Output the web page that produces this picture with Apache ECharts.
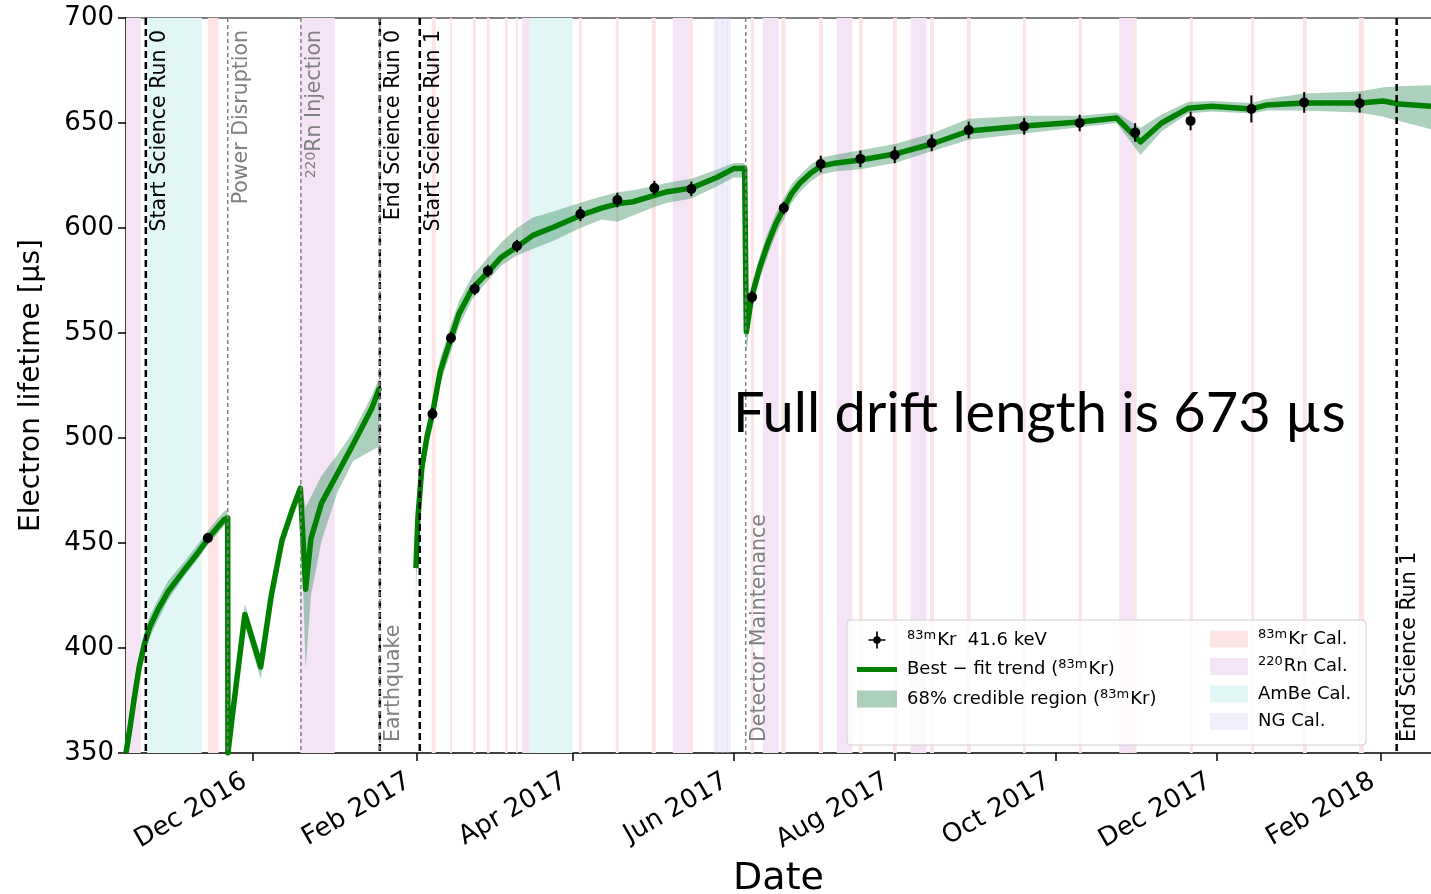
<!DOCTYPE html>
<html><head><meta charset="utf-8">
<script src="https://cdn.jsdelivr.net/npm/echarts@6/dist/echarts.min.js"></script>
<style>html,body{margin:0;padding:0;background:#fff}#c{width:1431px;height:894px}</style>
</head><body><div id="c"></div>
<script>
// ---------------- data ----------------
const xMin = '2016-10-14', xMax = '2018-02-20';
const yMin = 350, yMax = 700, yStep = 50;
const xTickDates = ['2016-12-01','2017-02-01','2017-04-01','2017-06-01','2017-08-01','2017-10-01','2017-12-01','2018-02-01'];
const xTickLabels = ['Dec 2016','Feb 2017','Apr 2017','Jun 2017','Aug 2017','Oct 2017','Dec 2017','Feb 2018'];

// Science Run 0 best-fit trend and 68% region
const run0Dates = ['2016-10-14','2016-10-15 12:00','2016-10-17','2016-10-19','2016-10-21','2016-10-23','2016-10-26','2016-10-30','2016-11-05','2016-11-10','2016-11-14','2016-11-20','2016-11-21 12:00','2016-11-21 14:00','2016-11-23','2016-11-28','2016-12-04','2016-12-08','2016-12-12','2016-12-16','2016-12-19','2016-12-21','2016-12-23','2016-12-27','2017-01-02','2017-01-08','2017-01-15','2017-01-18'];
const run0Trend = [350,362,375,391,402,410,418,427,437,445,452,461,462,350,365,416,391,425,451,466,476,428,452,469,483,497,514,524];
const run0Low   = [350,354,367,385,396,405,413,423,434,442,449,458,459,350,358,411,385,419,447,462,472,390,425,451,474,489,494,496];
const run0High  = [357,370,383,397,408,415,423,432,441,449,456,465,466,350,370,421,396,431,455,470,479,467,472,482,492,503,520,529];

// Science Run 1 best-fit trend and 68% region
const run1Dates = ['2017-01-31 18:00','2017-02-01 12:00','2017-02-03','2017-02-05','2017-02-07','2017-02-10','2017-02-14','2017-02-17','2017-02-22','2017-02-28','2017-03-05','2017-03-11','2017-03-17','2017-03-25','2017-04-04','2017-04-12','2017-04-18','2017-04-24','2017-05-02','2017-05-07','2017-05-16','2017-05-26','2017-06-01','2017-06-05 04:00','2017-06-05 20:00','2017-06-07 20:00','2017-06-11','2017-06-14','2017-06-17','2017-06-20','2017-06-23','2017-06-26','2017-06-30','2017-07-04','2017-07-10','2017-07-19','2017-08-01','2017-08-15','2017-08-29','2017-09-19','2017-10-10','2017-10-24','2017-11-02','2017-11-10','2017-11-20','2017-11-29','2017-12-14','2017-12-20','2018-01-03','2018-01-24','2018-02-02','2018-02-08','2018-02-20'];
const run1Trend = [438,462,486,501,511.5,532,547.5,559,571,579,586,591,596.5,600.5,606,609.5,611.5,612.5,615.5,617.3,619,624.3,628.3,628.5,550.6,567.3,581.6,592.7,602,609.4,616.5,621.3,626,629.5,631,632.4,635.2,640,646.2,648.6,650.5,652.4,641,650,657,658,656.7,658.6,659.5,659.5,660.5,659,658];
const run1Low   = [422,455,478,494,505,526,541,553,566,575,582,587,590,594,600,604,603,606,610,612,614,620,624,624,540,561,576,587,597,604,612,617,622,625.5,627,628,631,636.5,642,645,648,650,634.8,646,654.5,655.5,654.5,656,656,655,653,651,647];
const run1High  = [442,469,492,507,517,538,554,565,577,586,593,600,605,608,612,615,617,618,620,621.5,623.5,628,631,631,555,573,587,598,607,614,621,625,630,633.5,635,637,640,645,652,653.5,653.5,655,647.6,654,660,660.5,659.5,661.5,664,665,667,667.5,668];

// 83mKr 41.6 keV measurements
const krDates  = ['2016-11-14','2017-02-07','2017-02-14','2017-02-23','2017-02-28','2017-03-11','2017-04-04','2017-04-18','2017-05-02','2017-05-16','2017-06-08','2017-06-20','2017-07-04','2017-07-19','2017-08-01','2017-08-15','2017-08-29','2017-09-19','2017-10-10','2017-10-31','2017-11-21','2017-12-14','2018-01-03','2018-01-24'];
const krValues = [452.4,511.4,547.6,571,579.5,591.4,606.7,613.3,619,618.6,567.1,609.5,630.5,632.9,634.8,640.5,646.7,648.4,650,645.5,651,656.7,659.8,659.4];
const krErrors = [1.5,2,2,2,2,2,2.5,2.5,2.5,2.5,2,2,3,3,3,3,3,3,3,3.5,3.5,5.5,4,3.5];

// calibration periods [start, end]
const krCal = [['2016-11-14','2016-11-18'],['2017-02-06 18:00','2017-02-08 06:00'],['2017-02-13 14:00','2017-02-14 08:00'],['2017-02-22 08:00','2017-02-23 10:00'],['2017-02-27 14:00','2017-02-28 16:00'],['2017-03-06 10:00','2017-03-07 12:00'],['2017-03-10 14:00','2017-03-11 08:00'],['2017-04-03 10:00','2017-04-04 12:00'],['2017-04-17 10:00','2017-04-18 12:00'],['2017-05-01','2017-05-02 14:00'],['2017-05-15','2017-05-16 14:00'],['2017-06-07 12:00','2017-06-08 16:00'],['2017-06-19 04:00','2017-06-20 16:00'],['2017-07-03 08:00','2017-07-04 20:00'],['2017-07-18 10:00','2017-07-19 22:00'],['2017-07-31 08:00','2017-08-01 20:00'],['2017-08-14 08:00','2017-08-15 20:00'],['2017-08-28 08:00','2017-08-29 20:00'],['2017-09-18 12:00','2017-09-19 14:00'],['2017-10-09 16:00','2017-10-10 20:00'],['2017-10-30 12:00','2017-10-31 14:00'],['2017-11-20 16:00','2017-11-21 20:00'],['2017-12-14','2017-12-15'],['2018-01-02 12:00','2018-01-04'],['2018-01-23 16:00','2018-01-25 14:00']];
const rnCal = [['2016-10-14','2016-10-19 14:00'],['2016-12-19','2017-01-01'],['2017-03-13','2017-03-16'],['2017-05-09','2017-05-15'],['2017-06-12','2017-06-18'],['2017-07-10','2017-07-16'],['2017-08-07','2017-08-13'],['2017-10-25','2017-10-30 12:00']];
const ambeCal = [['2016-10-22','2016-11-11 16:00'],['2017-03-16','2017-04-01']];
const ngCal = [['2017-05-24 12:00','2017-05-31'],['2017-05-25 06:00','2017-05-25 18:00'],['2017-05-27 12:00','2017-05-28'],['2017-05-29 06:00','2017-05-29 18:00']];

// detector events
const eventDates  = ['2016-10-21 12:00','2016-11-21 12:00','2016-12-19 05:00','2017-01-18 02:00','2017-01-18 02:00','2017-02-02 05:00','2017-06-05 14:00','2018-02-07'];
const eventLabels = ['Start Science Run 0','Power Disruption','{sup|220}Rn Injection','End Science Run 0','Earthquake','Start Science Run 1','Detector Maintenance','End Science Run 1'];
const eventKinds  = ['run','event','event','run','event','run','event','run'];
const eventLabelEnd = ['top','top','top','top','bottom','top','bottom','bottom'];

const legendNames = {
  kr: '{sup|83m}Kr  41.6 keV',
  trend: 'Best \u2212 fit trend ({sup|83m}Kr)',
  cred: '68% credible region ({sup|83m}Kr)',
  krCal: '{sup|83m}Kr Cal.',
  rnCal: '{sup|220}Rn Cal.',
  ambeCal: 'AmBe Cal.',
  ngCal: 'NG Cal.'
};

// ---------------- chart ----------------
const ts = s => echarts.number.parseDate(s).getTime();
const FONT = '"DejaVu Sans", sans-serif';
const chart = echarts.init(document.getElementById('c'), null, {renderer: 'canvas'});
const tickTs = xTickDates.map(ts);

function bandSeries(name, periods, color) {
  return {
    type: 'custom', name, z: 1, clip: true,
    itemStyle: {color},
    encode: {x: [0, 1], y: 2},
    data: periods.map(p => [ts(p[0]), ts(p[1]), 525]),
    renderItem: (params, api) => {
      const cs = params.coordSys;
      const a = api.coord([api.value(0), 525])[0];
      const b = api.coord([api.value(1), 525])[0];
      return {type: 'rect', shape: {x: a, y: cs.y, width: Math.max(b - a, 1.5), height: cs.height}, style: {fill: color}};
    }
  };
}

const segments = [
  {d: run0Dates, lo: run0Low, hi: run0High},
  {d: run1Dates, lo: run1Low, hi: run1High}
];

const trendData = [];
run0Dates.forEach((d, i) => trendData.push([ts(d), run0Trend[i]]));
trendData.push([ts('2017-01-25'), null]);
run1Dates.forEach((d, i) => trendData.push([ts(d), run1Trend[i]]));

const supRich = {
  sup: {fontSize: 13, fontFamily: FONT, verticalAlign: 'top', lineHeight: 13, padding: [0, 1, 0, 0]}
};

const option = {
  animation: false,
  backgroundColor: '#fff',
  grid: {left: 126, right: 0, top: 18, bottom: 141, containLabel: false, outerBoundsMode: 'none'},
  xAxis: [{
    type: 'value', min: ts(xMin), max: ts(xMax), scale: true,
    axisLine: {lineStyle: {color: '#000', width: 1.5}},
    axisTick: {customValues: tickTs, length: 8, lineStyle: {color: '#000', width: 1.5}},
    axisLabel: {
      customValues: tickTs, rotate: 30, margin: 22, padding: [0, 9, 0, 0],
      fontSize: 26, fontFamily: FONT, color: '#000',
      formatter: v => { const i = tickTs.indexOf(v); return i >= 0 ? xTickLabels[i] : ''; }
    },
    splitLine: {show: false}, minorTick: {show: false},
    name: 'Date', nameLocation: 'middle', nameGap: 104,
    nameTextStyle: {fontSize: 38, fontFamily: FONT, color: '#000'}
  }, {
    type: 'value', position: 'top', min: 0, max: 1,
    axisLine: {show: true, lineStyle: {color: '#555', width: 1.5}},
    axisTick: {show: false}, axisLabel: {show: false}, splitLine: {show: false}
  }],
  yAxis: {
    type: 'value', min: yMin, max: yMax, interval: yStep,
    axisLine: {show: true, lineStyle: {color: '#000', width: 1.5}},
    axisTick: {show: true, length: 8, lineStyle: {color: '#000', width: 1.5}},
    axisLabel: {fontSize: 26, fontFamily: FONT, color: '#000', margin: 12},
    splitLine: {show: false},
    name: 'Electron lifetime [\u00b5s]', nameLocation: 'middle', nameGap: 80,
    nameTextStyle: {fontSize: 28, fontFamily: FONT, color: '#000'}
  },
  legend: [{
    data: [
      {name: 'kr', icon: 'path://M9,0 L11,0 L11,20 L9,20 Z M0,9 L20,9 L20,11 L0,11 Z M10,5.5 A4.5,4.5 0 1 1 9.99,5.5 Z'},
      {name: 'trend', icon: 'path://M0,0 L40,0 L40,5 L0,5 Z'},
      {name: 'cred', icon: 'rect'}
    ],
    orient: 'vertical', left: 852, top: 624, itemWidth: 40, itemHeight: 17, itemGap: 7.5,
    selectedMode: false, z: 10,
    formatter: n => legendNames[n],
    textStyle: {fontSize: 18, fontFamily: FONT, color: '#000', lineHeight: 22, padding: [0, 0, 0, 5], rich: supRich}
  }, {
    data: [
      {name: 'krCal', icon: 'rect'}, {name: 'rnCal', icon: 'rect'},
      {name: 'ambeCal', icon: 'rect'}, {name: 'ngCal', icon: 'rect'}
    ],
    orient: 'vertical', left: 1205, top: 623, itemWidth: 38, itemHeight: 17, itemGap: 5.5,
    selectedMode: false, z: 10,
    formatter: n => legendNames[n],
    textStyle: {fontSize: 18, fontFamily: FONT, color: '#000', lineHeight: 22, padding: [0, 0, 0, 5], rich: supRich}
  }],
  graphic: [
    {type: 'rect', z: 9, shape: {x: 847, y: 620, width: 519, height: 125, r: 4},
     style: {fill: 'rgba(255,255,255,0.8)', stroke: '#d0d0d0', lineWidth: 1}},
    {type: 'text', z: 8, x: 733, y: 414,
     style: {text: 'Full drift length is 673 \u00b5s', fontSize: 56, fontFamily: 'Lato, sans-serif', fill: '#000', verticalAlign: 'middle', align: 'left'}}
  ],
  series: [
    bandSeries('krCal', krCal, '#fde4e4'),
    bandSeries('rnCal', rnCal, '#f5e3f6'),
    bandSeries('ambeCal', ambeCal, '#e3f6f6'),
    bandSeries('ngCal', ngCal, 'rgba(205,205,250,0.3)'),
    {
      type: 'custom', name: 'cred', z: 2, clip: true,
      itemStyle: {color: 'rgba(46,139,87,0.4)'},
      encode: {x: 0, y: 1},
      data: segments.map((s, i) => [ts(s.d[0]), 500, i]),
      renderItem: (params, api) => {
        const s = segments[api.value(2)];
        const pts = [];
        for (let k = 0; k < s.d.length; k++) pts.push(api.coord([ts(s.d[k]), s.hi[k]]));
        for (let k = s.d.length - 1; k >= 0; k--) pts.push(api.coord([ts(s.d[k]), s.lo[k]]));
        return {type: 'polygon', shape: {points: pts, smooth: 0}, style: {fill: 'rgba(46,139,87,0.4)'}};
      }
    },
    {
      type: 'line', name: 'trend', z: 3, data: trendData, showSymbol: false, connectNulls: false,
      lineStyle: {color: '#008000', width: 5.5, join: 'round'}, itemStyle: {color: '#008000'}
    },
    {
      type: 'custom', name: 'kr', z: 4,
      itemStyle: {color: '#000'},
      encode: {x: 0, y: 1},
      data: krDates.map((d, i) => [ts(d), krValues[i], krErrors[i]]),
      renderItem: (params, api) => {
        const x = api.value(0), v = api.value(1), e = api.value(2);
        const p = api.coord([x, v]), a = api.coord([x, v + e]), b = api.coord([x, v - e]);
        return {type: 'group', children: [
          {type: 'line', shape: {x1: a[0], y1: a[1] - 2, x2: b[0], y2: b[1] + 2}, style: {stroke: '#000', lineWidth: 2}},
          {type: 'circle', shape: {cx: p[0], cy: p[1], r: 5}, style: {fill: '#000'}}
        ]};
      }
    },
    {
      type: 'custom', name: 'events', z: 5, clip: false,
      encode: {x: 0, y: 1},
      data: eventDates.map((d, i) => [ts(d), 525, i]),
      renderItem: (params, api) => {
        const i = api.value(2);
        const cs = params.coordSys;
        const x = api.coord([api.value(0), 525])[0];
        const run = eventKinds[i] === 'run';
        const top = eventLabelEnd[i] === 'top';
        const col = run ? '#000' : '#808080';
        return {type: 'group', children: [
          {type: 'line', shape: {x1: x, y1: cs.y, x2: x, y2: cs.y + cs.height},
           style: {stroke: col, lineWidth: run ? 2.5 : 1.5, lineDash: run ? [7, 4] : [4, 3]}},
          {type: 'text', x: x + 3, y: top ? cs.y + 12 : cs.y + cs.height - 11, rotation: Math.PI / 2,
           style: {text: eventLabels[i], fill: col, fontSize: 20.5, fontFamily: FONT,
                   align: top ? 'right' : 'left', verticalAlign: 'top',
                   rich: {sup: {fontSize: 14, fontFamily: FONT, fill: col, verticalAlign: 'top', lineHeight: 14}}}}
        ]};
      }
    }
  ]
};
chart.setOption(option);
</script>
</body></html>
